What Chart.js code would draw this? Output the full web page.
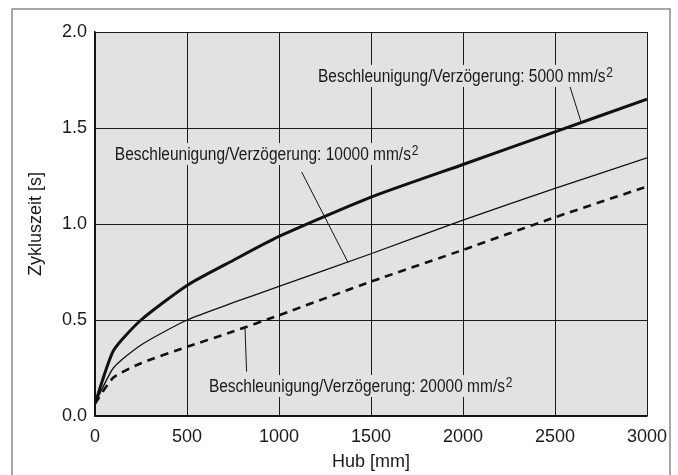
<!DOCTYPE html>
<html>
<head>
<meta charset="utf-8">
<script src="https://cdn.jsdelivr.net/npm/chart.js@4"></script>
<style>
  html, body { margin: 0; padding: 0; background: #fff; }
  #wrap { width: 678px; height: 475px; }
</style>
</head>
<body>
<div id="wrap"><canvas id="cycleChart" width="678" height="475"></canvas></div>
<script>
// Hub [mm] and cycle times [s]
const hub = [0, 100, 250, 500, 750, 1000, 1500, 2000, 2500, 3000];
const t5000 = [0.065, 0.34, 0.50, 0.68, 0.81, 0.935, 1.14, 1.31, 1.48, 1.65];
const t10000 = [0.065, 0.25, 0.37, 0.50, 0.59, 0.675, 0.845, 1.02, 1.185, 1.345];
const t20000 = [0.065, 0.20, 0.275, 0.36, 0.44, 0.525, 0.70, 0.865, 1.035, 1.195];

const xTicks = [0, 500, 1000, 1500, 2000, 2500, 3000];
const yTicks = [0, 0.5, 1.0, 1.5, 2.0];

// label text, anchor (left edge / middle) and leader line, all in data units
const labelTexts = [
    'Beschleunigung/Verzögerung: 5000 mm/s',
    'Beschleunigung/Verzögerung: 10000 mm/s',
    'Beschleunigung/Verzögerung: 20000 mm/s'
];
const labelAnchors = [[1212, 1.766], [108, 1.359], [619, 0.151]];
const leaderLines = [
    [[2582, 1.714], [2642, 1.53]],
    [[1123, 1.271], [1375, 0.80]],
    [[824, 0.231], [815, 0.462]]
];

const plotGray = '#e2e2e2';

function toPoints(values) {
    return hub.map((h, i) => ({ x: h, y: values[i] }));
}

// gray plot background and outer frame
const backgroundPlugin = {
    id: 'background',
    beforeDraw(chart) {
        const { ctx, chartArea: a } = chart;
        ctx.save();
        ctx.strokeStyle = '#8a8a8a';
        ctx.lineWidth = 1.5;
        ctx.strokeRect(12, 9, 658, 480);
        ctx.fillStyle = plotGray;
        ctx.fillRect(a.left, a.top, a.right - a.left, a.bottom - a.top);
        ctx.restore();
    }
};

// curve labels with superscript and leader lines (condensed type like the original)
const labelPlugin = {
    id: 'curveLabels',
    afterDatasetsDraw(chart) {
        const { ctx, scales: { x, y } } = chart;
        const squeeze = 0.86;
        ctx.save();
        ctx.strokeStyle = '#111';
        ctx.lineWidth = 1;
        leaderLines.forEach(line => {
            ctx.beginPath();
            ctx.moveTo(x.getPixelForValue(line[0][0]), y.getPixelForValue(line[0][1]));
            ctx.lineTo(x.getPixelForValue(line[1][0]), y.getPixelForValue(line[1][1]));
            ctx.stroke();
        });
        ctx.textBaseline = 'middle';
        ctx.textAlign = 'left';
        labelTexts.forEach((text, i) => {
            const px = x.getPixelForValue(labelAnchors[i][0]);
            const py = y.getPixelForValue(labelAnchors[i][1]);
            ctx.save();
            ctx.translate(px, py);
            ctx.scale(squeeze, 1);
            ctx.font = '18px "Liberation Sans", Arial, sans-serif';
            const w = ctx.measureText(text).width;
            ctx.font = '14px "Liberation Sans", Arial, sans-serif';
            const w2 = ctx.measureText('2').width;
            // knock the grid out behind the text
            ctx.fillStyle = plotGray;
            ctx.fillRect(-3, -12, w + w2 + 7, 22);
            ctx.fillStyle = '#1a1a1a';
            ctx.fillText('2', w + 1, -4);
            ctx.font = '18px "Liberation Sans", Arial, sans-serif';
            ctx.fillText(text, 0, 0);
            ctx.restore();
        });
        ctx.restore();
    }
};

const tickFont = { family: '"Liberation Sans", Arial, sans-serif', size: 18 };

new Chart(document.getElementById('cycleChart').getContext('2d'), {
    type: 'line',
    data: {
        datasets: [{
            label: '5000 mm/s2',
            data: toPoints(t5000),
            borderColor: '#111',
            borderWidth: 3,
            pointRadius: 0,
            tension: 0.2,
            fill: false
        }, {
            label: '10000 mm/s2',
            data: toPoints(t10000),
            borderColor: '#111',
            borderWidth: 1.3,
            pointRadius: 0,
            tension: 0.2,
            fill: false
        }, {
            label: '20000 mm/s2',
            data: toPoints(t20000),
            borderColor: '#111',
            borderWidth: 2.6,
            borderDash: [8, 6],
            pointRadius: 0,
            tension: 0.2,
            fill: false
        }]
    },
    options: {
        responsive: false,
        animation: false,
        layout: { padding: { left: 0, top: 32, right: 31, bottom: 0 } },
        plugins: {
            legend: { display: false },
            tooltip: { enabled: false }
        },
        scales: {
            x: {
                type: 'linear',
                min: 0,
                max: 3000,
                afterFit(scale) { scale.height = 59; },
                afterBuildTicks(scale) { scale.ticks = xTicks.map(v => ({ value: v })); },
                grid: { color: '#1a1a1a', lineWidth: 1, drawTicks: false },
                border: { color: '#111', width: 1.5 },
                ticks: { color: '#1a1a1a', font: tickFont, padding: 10, maxRotation: 0, callback: v => String(v) },
                title: { display: true, text: 'Hub [mm]', color: '#1a1a1a', font: tickFont, padding: { top: 0, bottom: 2 } }
            },
            y: {
                min: 0,
                max: 2,
                afterFit(scale) { scale.width = 95; },
                afterBuildTicks(scale) { scale.ticks = yTicks.map(v => ({ value: v })); },
                grid: { color: '#1a1a1a', lineWidth: 1, drawTicks: false },
                border: { color: '#111', width: 1.5 },
                ticks: { color: '#1a1a1a', font: tickFont, padding: 8, callback: v => v.toFixed(1) },
                title: { display: true, text: 'Zykluszeit [s]', color: '#1a1a1a', font: tickFont, padding: { top: 25, bottom: 0 } }
            }
        }
    },
    plugins: [backgroundPlugin, labelPlugin]
});
</script>
</body>
</html>
